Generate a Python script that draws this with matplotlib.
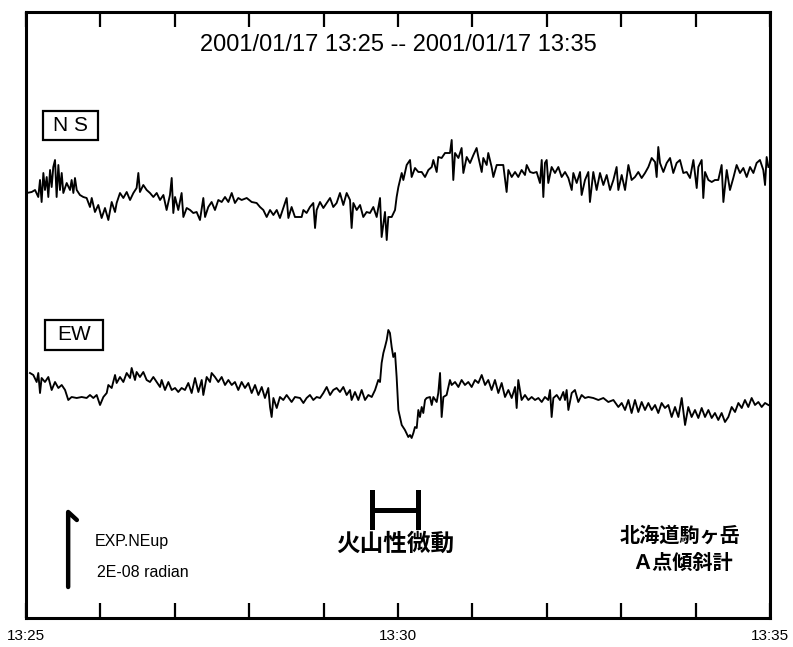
import matplotlib
matplotlib.use('Agg')
import matplotlib.pyplot as plt
from matplotlib.patches import Rectangle

plt.rcParams['font.family'] = ['Liberation Sans', 'Noto Sans CJK JP', 'DejaVu Sans']

# 北海道駒ヶ岳 A点傾斜計, 2001/01/17 13:25 - 13:35
# time in seconds after 13:25, tilt in digitizer counts (75 counts = 2E-08 radian)
title = '2001/01/17 13:25 -- 2001/01/17 13:35'
tick_minutes = [0, 1, 2, 3, 4, 5, 6, 7, 8, 9, 10]
tick_labels = ['13:25', '', '', '', '', '13:30', '', '', '', '', '13:35']
scale_counts = 75
scale_label = '2E-08 radian'
tremor = (279, 316)  # 火山性微動, seconds

ns_t = [0.5, 4.6, 7.3, 9.9, 11.3, 12.6, 14.0, 15.3, 16.7, 18.0,
        19.4, 20.7, 22.0, 23.4, 24.7, 26.1, 27.4, 28.8, 30.1, 32.8,
        35.5, 36.8, 38.2, 39.5, 40.9, 43.5, 46.2, 48.9, 51.6, 53.0,
        55.6, 58.3, 61.0, 63.7, 66.4, 69.1, 71.8, 73.1, 75.8, 78.5,
        81.2, 83.9, 86.6, 89.2, 90.6, 91.9, 94.6, 97.3, 100.0, 102.7,
        105.4, 108.1, 110.8, 113.4, 116.1, 117.5, 118.8, 120.2, 122.8, 125.5,
        126.9, 129.6, 132.3, 134.9, 137.6, 140.3, 143.0, 144.4, 147.0, 149.7,
        152.4, 155.1, 157.8, 160.5, 163.2, 165.9, 168.5, 171.2, 173.9, 178.0,
        182.0, 186.0, 188.7, 191.4, 194.1, 196.8, 199.5,
        202.2, 204.8, 207.5, 210.2, 211.6, 214.2, 216.9, 219.6, 222.3, 223.7,
        226.3, 229.0, 231.7, 233.1, 234.4, 237.1, 239.8, 242.5, 245.2, 247.8,
        250.5, 253.2, 255.9, 258.6, 261.3, 262.6, 264.0, 266.7, 269.4, 272.0,
        274.7, 277.4, 280.1, 282.8, 285.5, 286.8, 289.5, 290.9, 292.2, 294.9,
        297.6, 298.9, 300.3, 303.0, 304.3, 307.0, 309.7, 311.0, 313.7, 316.4,
        319.1, 321.8, 324.5, 327.2, 328.5, 331.2, 332.5, 335.2, 337.9, 341.9,
        343.3, 344.6, 346.0, 348.7, 351.3, 352.7, 355.4, 358.1, 360.8, 363.4,
        364.8, 367.5, 368.8, 371.5, 372.8, 375.5, 376.9, 379.6, 382.3, 384.9,
        387.6, 389.0, 391.7, 394.4, 397.0, 399.7, 402.4,
        403.8, 406.5, 409.1, 411.8, 414.5, 415.9, 417.2, 418.5, 419.9, 421.2,
        423.9, 426.6, 429.3, 432.0, 434.7, 437.4, 440.1, 441.4, 444.1, 446.8,
        448.1, 450.8, 453.5, 454.8, 457.5, 460.2, 462.9, 465.6, 468.3, 471.0,
        473.7, 476.3, 477.7, 480.4, 483.1, 485.8, 488.4, 491.1, 493.8, 496.5,
        499.2, 501.9, 504.6, 507.3, 508.6, 509.9, 511.3, 514.0, 516.7, 519.4,
        522.0, 524.7, 527.4, 530.1, 532.8, 535.5, 538.2, 540.9, 542.2, 544.9,
        546.2, 547.6, 550.3, 553.0, 555.6, 558.3, 561.0, 562.4, 565.1, 567.7,
        570.4, 573.1, 575.8, 578.5, 581.2, 583.9, 586.6, 589.2, 591.9, 594.6,
        596.0, 597.3, 598.7]
ns_counts = [0, 1, 3, -4, 13, -9, 20, 3, 16, -4,
             23, 6, 26, 33, -4, 28, 3, 20, 0, 10,
             3, 13, 0, 15, 3, -2, -4, -5, -14, -5,
             -19, -12, -25, -15, -27, -9, -19, -10, 0, -5,
             1, -7, 0, 5, 20, 1, 8, 3, 0, -4,
             0, -7, -2, -17, -2, 15, -20, -4, -17, 0,
             -24, -15, -17, -20, -19, -27, -5, -24, -14, -9,
             -17, -7, -9, -4, -9, 0, -10, -5, -7, -5,
             -9, -10, -14, -17, -24, -17, -22,
             -17, -25, -15, -5, -25, -14, -24, -24, -24, -17,
             -20, -14, -10, -35, -17, -9, -15, -10, -5, -14,
             -10, 0, -12, 0, -7, -35, -10, -17, -12, -24,
             -19, -20, -14, -24, -5, -44, -19, -47, -24, -24,
             -17, -4, 6, 20, 13, 28, 33, 16, 25, 21,
             21, 16, 23, 26, 33, 21, 36, 35, 40, 40,
             53, 13, 40, 35, 45, 20, 36, 30, 38, 45,
             36, 21, 35, 28, 40, 26, 16, 28, 28, 28,
             1, 23, 16, 21, 16, 23, 18,
             28, 21, 20, 21, 10, 33, -4, 30, 33, 10,
             26, 20, 26, 16, 21, 15, 3, 20, 10, 21,
             -2, 13, 21, -9, 21, 3, 20, 8, 18, 3,
             13, 26, 3, 18, 3, 28, 13, 16, 21, 15,
             20, 26, 35, 31, 16, 46, 30, 21, 30, 35,
             20, 30, 33, 20, 21, 15, 33, 5, 26, 33,
             -5, 21, 13, 11, 13, 13, 28, -9, 23, 3,
             15, 28, 20, 25, 16, 26, 20, 30, 33, 23,
             8, 36, 26]

ew_t = [3.2, 5.9, 8.6, 9.9, 11.3, 12.6, 15.3, 18.0, 20.7, 23.4,
        26.1, 28.8, 31.5, 34.1, 36.8, 40.9, 44.9, 48.9, 51.6, 54.3,
        57.0, 59.7, 62.4, 65.1, 66.4, 69.1, 71.8, 73.1, 75.8, 78.5,
        81.2, 83.9, 85.2, 87.9, 89.2, 91.9, 94.6, 97.3, 100.0, 102.7,
        105.4, 108.1, 109.4, 112.1, 114.8, 117.5, 120.2, 122.8, 125.5, 128.2,
        130.9, 133.6, 136.3, 139.0, 141.7, 143.0, 145.7, 148.4, 149.7, 152.4,
        155.1, 157.8, 160.5, 163.2, 165.9, 168.5, 171.2, 173.9, 176.6, 179.3,
        182.0, 184.7, 187.4, 190.1, 192.7, 195.4, 196.8, 198.1, 199.5, 202.2,
        204.8, 207.5, 210.2, 214.2, 216.9, 221.0, 223.7, 226.3, 229.0, 231.7,
        234.4, 237.1, 239.8, 242.5, 245.2, 247.8, 250.5, 253.2, 255.9, 258.6,
        261.3, 262.6, 265.3, 268.0, 270.7, 273.4, 276.1, 278.8, 281.5, 284.1,
        285.5, 286.8, 288.2, 289.5, 290.9, 292.2, 293.5, 294.9, 296.2, 297.6,
        298.9, 300.3,
        301.6, 303.0, 305.6, 308.3, 309.7, 311.0, 312.4, 313.7, 315.1, 316.4,
        317.7, 319.1, 320.4, 321.8, 323.1, 325.8, 327.2, 328.5, 331.2, 332.5,
        333.9, 335.2, 336.6, 339.2, 341.9, 343.3, 346.0, 348.7, 351.3, 354.0,
        356.7, 359.4, 362.1, 364.8, 367.5, 370.2, 372.8, 375.5, 378.2, 380.9,
        383.6, 386.3, 389.0, 391.7, 394.4, 395.7, 397.0, 399.7, 402.4, 405.1,
        407.8, 410.5, 413.2, 415.9, 418.5, 421.2, 422.6, 423.9, 425.3, 428.0,
        430.6, 433.3, 434.7, 436.0, 437.4, 440.1, 442.7, 445.4, 448.1, 450.8,
        453.5, 457.5, 461.6, 465.6, 469.6, 473.7, 477.7, 480.4, 483.1, 485.8,
        488.4, 491.1, 493.8, 496.5, 499.2, 501.9, 504.6, 507.3, 509.9, 512.6,
        515.3, 518.0, 520.7, 523.4, 526.1, 528.8, 531.5, 534.1, 536.8, 539.5,
        542.2, 544.9, 547.6, 550.3, 553.0, 555.6, 558.3, 561.0, 563.7, 566.4,
        569.1, 571.8, 574.5, 577.2, 579.8, 582.5, 585.2, 587.9, 590.6, 593.3,
        596.0, 598.7]
ew_counts = [17, 15, 8, 17, -3, 12, 8, 13, 0, 8,
             2, 5, 0, -10, -7, -8, -7, -8, -5, -8,
             -5, -15, -7, -3, 5, 2, 15, 7, 13, 8,
             17, 12, 22, 10, 18, 13, 18, 10, 8, 13,
             8, 3, 10, 0, 8, 0, 2, -2, 2, 0,
             7, -3, 12, -2, 10, -5, 13, 8, 17, 13,
             8, 13, 5, 10, 5, 8, 0, 8, 2, 7,
             -3, 5, -5, 3, -8, 2, -17, -27, -8, -18,
             -7, -10, -5, -12, -7, -8, -13, -8, -5, -10,
             -7, -8, -3, 3, -5, 0, 2, -2, 3, -5,
             0, -10, -2, -10, 0, -10, -5, -7, 0, 10,
             8, 27, 37, 43, 50, 60, 57, 43, 33, 37,
             13, -20,
             -27, -35, -40, -47, -45, -48, -43, -37, -38, -20,
             -27, -17, -23, -10, -8, -7, -15, -7, -12, -3,
             17, -27, -7, -5, 10, 5, 8, 3, 10, 5,
             8, 3, 10, 7, 15, 5, 10, 0, 10, -3,
             7, -7, 0, -8, 3, -18, 10, -10, -5, -10,
             -7, -10, -8, -12, -7, -10, 0, -27, -8, -5,
             -10, -2, -10, 0, -20, -3, 0, -12, -5, -8,
             -7, -8, -10, -8, -12, -10, -17, -13, -20, -10,
             -23, -10, -22, -12, -20, -13, -20, -15, -23, -13,
             -18, -15, -27, -17, -27, -8, -35, -17, -27, -20,
             -28, -18, -27, -20, -28, -23, -30, -23, -32, -27,
             -17, -22, -13, -18, -10, -17, -8, -15, -12, -17,
             -13, -15]

assert len(ns_t) == len(ns_counts), (len(ns_t), len(ns_counts))
assert len(ew_t) == len(ew_counts), (len(ew_t), len(ew_counts))

# vertical placement of the two traces (counts above the bottom frame)
NS_BASE = 425
EW_BASE = 228
cjk = ['Noto Sans CJK JP', 'DejaVu Sans']

fig = plt.figure(figsize=(7.93, 6.47), dpi=100)
ax = fig.add_axes([26 / 793, 1 - 618 / 647, 744 / 793, 606 / 647])
ax.set_xlim(0, 600)
ax.set_ylim(0, 606)

ax.plot(ns_t, [NS_BASE + v for v in ns_counts], color='black', lw=1.35)
ax.plot(ew_t, [EW_BASE + v for v in ew_counts], color='black', lw=1.35)

for s in ax.spines.values():
    s.set_linewidth(2.2)
ax.set_yticks([])
ax.set_xticks([m * 60 for m in tick_minutes])
ax.set_xticklabels(tick_labels, fontsize=11)
ax.tick_params(axis='x', direction='in', top=True, length=11, width=1.6, pad=8)

ax.text(0.501, 0.9455, title, transform=ax.transAxes, ha='center', va='center',
        fontsize=17)

# component label boxes
for (x0, y0, w, h), label, (tx, ty) in [((0.0228, 0.7888, 0.074, 0.0478), 'N S', (0.0598, 0.8127)),
                                        ((0.0255, 0.4422, 0.078, 0.0495), 'EW', (0.0645, 0.467))]:
    ax.add_patch(Rectangle((x0, y0), w, h, transform=ax.transAxes, fill=True,
                           facecolor='white', edgecolor='black', lw=1.6, zorder=3))
    ax.text(tx, ty, label, transform=ax.transAxes, ha='center', va='center',
            fontsize=15, zorder=4)

# scale arrow: 75 counts = 2E-08 radian
sx, sy = 34, 31
ax.plot([sx, sx, sx + 7], [sy, sy + scale_counts, sy + scale_counts - 8],
        color='black', lw=3.2, solid_capstyle='round', solid_joinstyle='round')
ax.text(0.0927, 0.127, 'EXP.NEup', transform=ax.transAxes, ha='left', va='center',
        fontsize=11.5)
ax.text(0.0954, 0.0743, scale_label, transform=ax.transAxes, ha='left', va='center',
        fontsize=11.5)

# tremor duration bracket
ax.plot([tremor[0], tremor[0]], [91, 126], color='black', lw=3.6)
ax.plot([tremor[1], tremor[1]], [91, 126], color='black', lw=3.6)
ax.plot([tremor[0], tremor[1]], [108, 108], color='black', lw=3.6)
ax.text(0.496, 0.122, '火山性微動', transform=ax.transAxes, ha='center', va='center',
        fontsize=17, fontweight='bold', family=cjk)

ax.text(0.879, 0.137, '北海道駒ヶ岳', transform=ax.transAxes, ha='center', va='center',
        fontsize=14.5, fontweight='bold', family=cjk)
ax.text(0.882, 0.0924, 'Ａ点傾斜計', transform=ax.transAxes, ha='center', va='center',
        fontsize=14.5, fontweight='bold', family=cjk)

fig.savefig('out.png', dpi=100)
